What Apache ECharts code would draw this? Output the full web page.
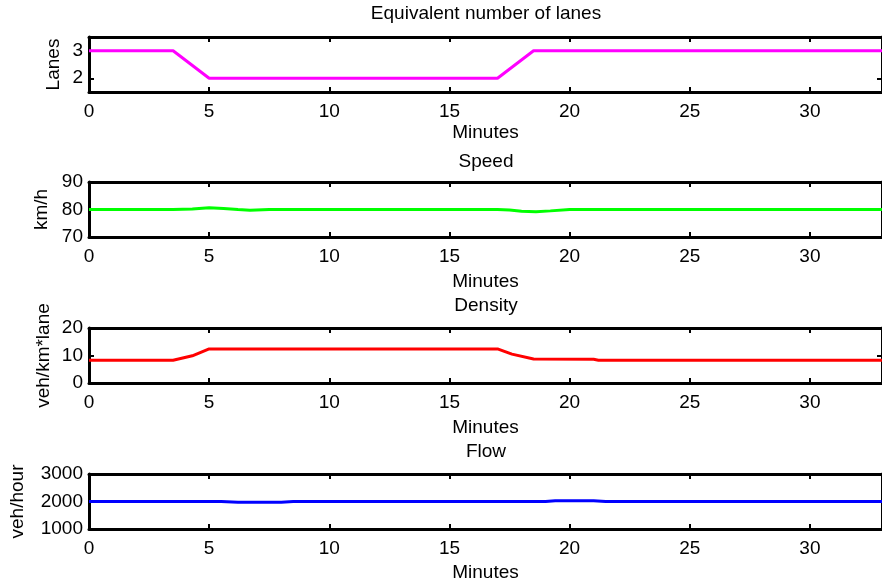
<!DOCTYPE html>
<html><head><meta charset="utf-8">
<script src="https://cdn.jsdelivr.net/npm/echarts@6/dist/echarts.min.js"></script>
<style>html,body{margin:0;padding:0;background:#fff}#c{width:882px;height:586px}</style>
</head><body><div id="c"></div>
<script>
const lanesX = [0, 3.5, 5, 17, 18.5, 33];
const lanesY = [3, 3, 2, 2, 3, 3];
const speedX = [0, 3.5, 4.3, 5, 5.6, 6.2, 6.7, 7.5, 17, 17.5, 18, 18.6, 19.2, 20, 33];
const speedY = [80, 80, 80.2, 80.6, 80.4, 80.0, 79.7, 80, 80, 79.8, 79.4, 79.2, 79.5, 80, 80];
const densX = [0, 3.5, 4.3, 5, 17, 17.6, 18.5, 21, 21.2, 33];
const densY = [8.3, 8.3, 9.9, 12.4, 12.4, 10.5, 8.7, 8.6, 8.3, 8.3];
const flowX = [0, 5.5, 6.2, 8, 8.5, 19, 19.4, 21, 21.5, 33];
const flowY = [2000, 2000, 1975, 1975, 2000, 2000, 2030, 2030, 2000, 2000];

const titles = ['Equivalent number of lanes', 'Speed', 'Density', 'Flow'];
const yNames = ['Lanes', 'km/h', 'veh/km*lane', 'veh/hour'];
const yMin = [1.5, 70, 0, 1000];
const yMax = [3.5, 90, 20, 3000];
const yTicks = [[2, 3], [70, 80, 90], [0, 10, 20], [1000, 2000, 3000]];
const xName = 'Minutes';
const xMin = 0, xMax = 33;
const xTicks = [0, 5, 10, 15, 20, 25, 30];

const FONT = 'Liberation Sans, Arial, Helvetica, sans-serif';
const FS = 19;
const tops = [37, 182, 328, 474];
const hts = [55, 55, 55, 55];
const titleTops = [4, 152, 296, 442];
const nameGaps = [26, 38, 36, 62];
const xNameGaps = [31, 35, 35, 34];
const colors = ['#ff00ff', '#00ff00', '#ff0000', '#0000ff'];
const xs = [lanesX, speedX, densX, flowX];
const ys = [lanesY, speedY, densY, flowY];

const lineStyle = {color: '#000', width: 3};
function tick(vals) {
  return {show: true, inside: true, length: 5, customValues: vals, lineStyle: {color: '#000', width: 2}};
}
const txt = {fontFamily: FONT, fontSize: FS, color: '#000'};

const grid = [], xAxis = [], yAxis = [], series = [], title = [];
for (let i = 0; i < 4; i++) {
  grid.push({left: 89, right: -2, top: tops[i], height: hts[i], containLabel: false});
  title.push({text: titles[i], left: 486, textAlign: 'center', top: titleTops[i], padding: 0,
    textStyle: {fontFamily: FONT, fontSize: FS, fontWeight: 'normal', color: '#000'}});
  xAxis.push({type: 'value', gridIndex: i, min: xMin, max: xMax, position: 'bottom',
    name: xName, nameLocation: 'middle', nameGap: xNameGaps[i], nameMoveOverlap: false,
    nameTextStyle: txt,
    axisLine: {show: true, onZero: false, lineStyle: lineStyle}, axisTick: tick(xTicks),
    axisLabel: Object.assign({show: true, margin: 10, customValues: xTicks, formatter: v => String(v)}, txt),
    splitLine: {show: false}});
  xAxis.push({type: 'value', gridIndex: i, min: xMin, max: xMax, position: 'top',
    axisLine: {show: true, onZero: false, lineStyle: lineStyle}, axisTick: tick(xTicks),
    axisLabel: {show: false}, splitLine: {show: false}});
  yAxis.push({type: 'value', gridIndex: i, min: yMin[i], max: yMax[i], position: 'left',
    name: yNames[i], nameLocation: 'middle', nameGap: nameGaps[i], nameRotate: 90, nameMoveOverlap: false,
    nameTextStyle: txt,
    axisLine: {show: true, onZero: false, lineStyle: lineStyle}, axisTick: tick(yTicks[i]),
    axisLabel: Object.assign({show: true, margin: 6, customValues: yTicks[i], formatter: v => String(v)}, txt),
    splitLine: {show: false}});
  yAxis.push({type: 'value', gridIndex: i, min: yMin[i], max: yMax[i], position: 'right',
    axisLine: {show: true, onZero: false, lineStyle: lineStyle}, axisTick: tick(yTicks[i]),
    axisLabel: {show: false}, splitLine: {show: false}});
  series.push({type: 'line', xAxisIndex: 2 * i, yAxisIndex: 2 * i, showSymbol: false, symbol: 'none',
    data: xs[i].map((x, k) => [x, ys[i][k]]), lineStyle: {color: colors[i], width: 3}, animation: false, z: 1});
}
const chart = echarts.init(document.getElementById('c'), null, {renderer: 'canvas'});
chart.setOption({animation: false, title, grid, xAxis, yAxis, series});
</script></body></html>
